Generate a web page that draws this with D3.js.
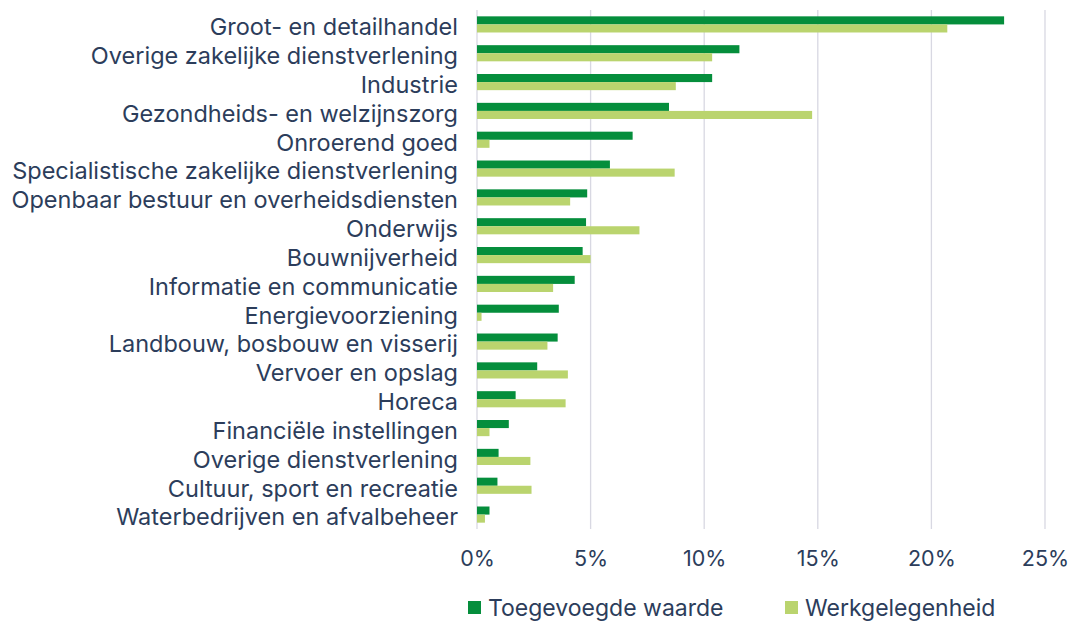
<!DOCTYPE html>
<html>
<head>
<meta charset="utf-8">
<script src="https://cdn.jsdelivr.net/npm/d3@7"></script>
<style>
  body { margin: 0; background: #fff; }
  svg text { font-family: Inter, "Open Sans", sans-serif; fill: #2c3d5b; }
</style>
</head>
<body>
<svg id="chart" width="1069" height="621"></svg>
<script>
/*** DATA ***/
var categories = [
  'Groot- en detailhandel',
  'Overige zakelijke dienstverlening',
  'Industrie',
  'Gezondheids- en welzijnszorg',
  'Onroerend goed',
  'Specialistische zakelijke dienstverlening',
  'Openbaar bestuur en overheidsdiensten',
  'Onderwijs',
  'Bouwnijverheid',
  'Informatie en communicatie',
  'Energievoorziening',
  'Landbouw, bosbouw en visserij',
  'Vervoer en opslag',
  'Horeca',
  'Financiële instellingen',
  'Overige dienstverlening',
  'Cultuur, sport en recreatie',
  'Waterbedrijven en afvalbeheer'
];
//toegevoegde waarde (%)
var waarde = [23.2, 11.55, 10.35, 8.45, 6.85, 5.85, 4.85, 4.8, 4.65, 4.3, 3.6, 3.55, 2.65, 1.7, 1.4, 0.95, 0.9, 0.55];
//werkgelegenheid (%)
var werk = [20.7, 10.35, 8.75, 14.75, 0.55, 8.7, 4.1, 7.15, 5.0, 3.35, 0.2, 3.1, 4.0, 3.9, 0.55, 2.35, 2.4, 0.35];
var xTicks = [0, 5, 10, 15, 20, 25];
var seriesNames = ['Toegevoegde waarde', 'Werkgelegenheid'];
var seriesColors = ['#058e3c', '#bad46e'];

/*** CHART ***/
var svg = d3.select('#chart');
var margin = {top: 10, left: 477, right: 24, bottom: 92};
var width = 1069 - margin.left - margin.right;
var height = 621 - margin.top - margin.bottom;

var x = d3.scaleLinear().domain([0, 25]).range([0, width]);
var y = d3.scaleBand().domain(categories).range([0, height]).paddingInner(0.44).paddingOuter(0.22);
var ySub = d3.scaleBand().domain([0, 1]).range([0, y.bandwidth()]);

var g = svg.append('g').attr('transform', 'translate(' + margin.left + ',' + margin.top + ')');

//gridlines
g.selectAll('.grid')
  .data(xTicks)
  .enter().append('line')
    .attr('x1', function(d) { return x(d); })
    .attr('x2', function(d) { return x(d); })
    .attr('y1', 0)
    .attr('y2', height)
    .attr('stroke', '#d8d8e2')
    .attr('stroke-width', 1.3);

//bars
var rows = g.selectAll('.row')
  .data(categories)
  .enter().append('g')
    .attr('transform', function(d) { return 'translate(0,' + y(d) + ')'; });

rows.append('rect')
  .attr('x', x(0))
  .attr('y', ySub(0))
  .attr('height', ySub.bandwidth())
  .attr('width', function(d, i) { return x(waarde[i]) - x(0); })
  .attr('fill', seriesColors[0]);

rows.append('rect')
  .attr('x', x(0))
  .attr('y', ySub(1))
  .attr('height', ySub.bandwidth())
  .attr('width', function(d, i) { return x(werk[i]) - x(0); })
  .attr('fill', seriesColors[1]);

//category labels
var yAxis = d3.axisLeft(y).tickSize(0).tickPadding(19);
g.append('g')
  .call(yAxis)
  .call(function(a) { a.select('.domain').remove(); })
  .selectAll('text')
    .attr('dy', '0.46em')
    .style('font-size', '23.5px');

//x axis labels
var xAxis = d3.axisBottom(x).tickValues(xTicks).tickSize(0).tickPadding(22)
  .tickFormat(function(d) { return d + '%'; });
g.append('g')
  .attr('transform', 'translate(0,' + height + ')')
  .call(xAxis)
  .call(function(a) { a.select('.domain').remove(); })
  .selectAll('text')
    .style('font-size', '21.5px');

//legend
var legend = svg.append('g').attr('transform', 'translate(468,599)');
var legendX = [0, 317];
seriesNames.forEach(function(name, i) {
  var item = legend.append('g').attr('transform', 'translate(' + legendX[i] + ',0)');
  item.append('rect')
    .attr('width', 13)
    .attr('height', 13)
    .attr('y', 2)
    .attr('fill', seriesColors[i]);
  item.append('text')
    .attr('x', 20)
    .attr('y', 17)
    .style('font-size', '23px')
    .text(name);
});
</script>
</body>
</html>
